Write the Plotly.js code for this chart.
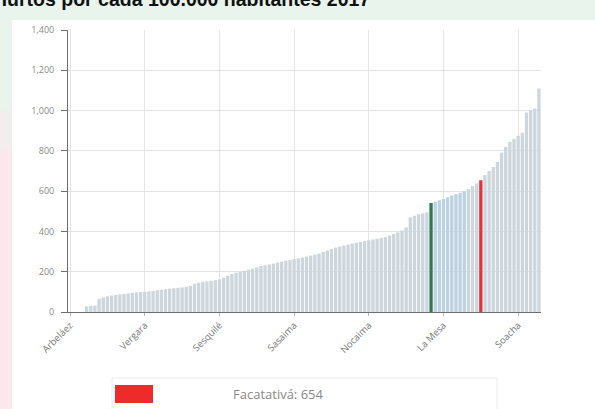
<!DOCTYPE html>
<html>
<head>
<meta charset="utf-8">
<script src="https://cdn.plot.ly/plotly-3.0.1.min.js"></script>
<style>html,body{margin:0;padding:0;background:#e8f4ec;}#chart{width:595px;height:409px;}</style>
</head>
<body>
<div id="chart"></div>
<script>
// Hurtos por cada 100.000 habitantes, 2017 (municipios ordenados de menor a mayor)
var values = [
  0, 0, 0, 0, 28, 30, 32, 65, 72, 78,
  82, 85, 88, 90, 92, 95, 97, 99, 100, 102,
  105, 108, 110, 113, 116, 118, 120, 122, 125, 130,
  140, 145, 150, 152, 155, 158, 162, 170, 180, 188,
  195, 200, 205, 210, 215, 222, 228, 232, 236, 240,
  245, 250, 255, 258, 262, 266, 270, 275, 280, 285,
  290, 298, 305, 312, 320, 325, 330, 335, 340, 344,
  348, 352, 356, 360, 364, 368, 372, 380, 388, 395,
  405, 420, 470, 478, 485, 490, 495, 541, 548, 555,
  562, 570, 578, 585, 592, 600, 610, 625, 638, 654,
  680, 700, 720, 745, 790, 820, 845, 860, 875, 890,
  990, 1000, 1010, 1110
];
var tickIndex = [0, 18, 36, 54, 72, 90, 108];
var tickLabels = ["Arbeláez", "Vergara", "Sesquilé", "Sasaima", "Nocaima", "La Mesa", "Soacha"];
var greenIndex = 87;
var redIndex = 99;
var blueGroup = [88, 89, 90, 91, 92, 93, 94, 95];
var highlightName = "Facatativá";

var xs = values.map(function (v, i) { return i; });
var colors = values.map(function (v, i) {
  if (i === greenIndex) return '#2f7a4e';
  if (i === redIndex) return '#e0343a';
  if (blueGroup.indexOf(i) >= 0) return '#bcd1e1';
  return '#cdd6dd';
});

var L = 68, R = 541, T = 30, B = 312;
function px(x) { return (x - L) / (R - L); }
function py(y) { return (B - y) / (B - T); }

var data = [{
  type: 'bar',
  x: xs,
  y: values,
  marker: { color: colors },
  hoverinfo: 'y'
}];

var layout = {
  width: 595, height: 409,
  margin: { l: L, r: 595 - R, t: T, b: 409 - B, pad: 0 },
  paper_bgcolor: '#e8f4ec',
  plot_bgcolor: '#ffffff',
  bargap: 0.2,
  showlegend: false,
  font: { family: 'Open Sans, Liberation Sans, sans-serif', size: 9, color: '#7a7a7a' },
  xaxis: {
    range: [-0.5, values.length - 0.5],
    tickmode: 'array', tickvals: tickIndex, ticktext: tickLabels,
    tickangle: -45,
    showline: true, linecolor: '#6f6f6f', linewidth: 1,
    showgrid: true, gridcolor: '#e6e6e6',
    ticks: 'outside', ticklen: 3, tickcolor: '#bbbbbb',
    tickfont: { size: 9.5, color: '#777777' },
    zeroline: false, fixedrange: true
  },
  yaxis: {
    range: [0, 1400], dtick: 200, tick0: 0,
    separatethousands: true,
    showline: true, linecolor: '#6f6f6f', linewidth: 1,
    showgrid: true, gridcolor: '#e3e3e3',
    ticks: 'outside', ticklen: 6, tickcolor: '#6f6f6f',
    ticklabelstandoff: 5,
    tickfont: { size: 9, color: '#8a8a8a' },
    zeroline: false, fixedrange: true
  },
  shapes: [
    { type: 'rect', xref: 'paper', yref: 'paper', layer: 'below',
      x0: px(12), x1: px(600), y0: py(420), y1: py(20),
      fillcolor: '#ffffff', line: { width: 0 } },
    { type: 'rect', xref: 'paper', yref: 'paper', layer: 'below',
      x0: px(-5), x1: px(12), y0: py(420), y1: py(150),
      fillcolor: '#fbe8ec', line: { width: 0 } },
    { type: 'rect', xref: 'paper', yref: 'paper', layer: 'below',
      x0: px(-5), x1: px(12), y0: py(150), y1: py(110),
      fillcolor: '#f2eeee', line: { width: 0 } },
    { type: 'rect', xref: 'paper', yref: 'paper',
      x0: px(112), x1: px(497), y0: py(420), y1: py(378),
      fillcolor: 'rgba(0,0,0,0)', line: { width: 1, color: '#ebebeb' } },
    { type: 'rect', xref: 'paper', yref: 'paper',
      x0: px(115), x1: px(153), y0: py(403), y1: py(385),
      fillcolor: '#ee2b2b', line: { width: 0 } }
  ],
  annotations: [
    { text: '<b>Hurtos por cada 100.000 habitantes 2017</b>',
      xref: 'paper', yref: 'paper', x: px(-9), y: py(-1),
      xanchor: 'left', yanchor: 'middle', showarrow: false,
      font: { family: 'Liberation Sans, Arial, sans-serif', size: 19.5, color: '#111111' } },
    { text: highlightName + ': ' + values[redIndex],
      xref: 'paper', yref: 'paper', x: px(231), y: py(394),
      xanchor: 'left', yanchor: 'middle', showarrow: false,
      font: { family: 'Open Sans, sans-serif', size: 13, color: '#8a8a8a' } }
  ]
};

Plotly.newPlot('chart', data, layout, { displayModeBar: false, staticPlot: true });
</script>
</body>
</html>
